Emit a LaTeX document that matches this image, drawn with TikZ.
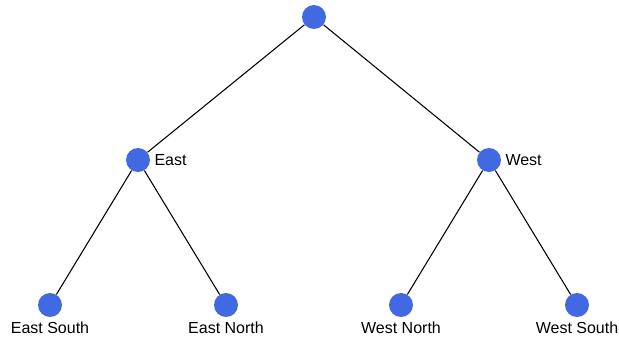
\documentclass[tikz,border=0pt]{standalone}
\usepackage{fontspec}
\setmainfont{Liberation Sans}
\definecolor{royalblue}{HTML}{4169E1}

\begin{document}
\begin{tikzpicture}[x=0.75pt,y=-0.75pt,
    font=\fontsize{12}{14}\selectfont,
    every label/.style={inner sep=1pt},
    leaf/.style={circle,
        minimum size=18pt,
        inner sep=0pt,
        fill=royalblue}]

% Fix the page to the size of the picture
\useasboundingbox (0,0) rectangle (619,339);

% Root at the top
\node[leaf] (root) at (314,17){};

% Second level, label on the right
\node[leaf,
    label={[label distance=2pt]0:East}] (east) at (138,160){};
\node[leaf,
    label={[label distance=2pt]0:West}] (west) at (489,160){};

% Leaves, label below
\node[leaf,
    label={[label distance=2.5pt]270:East South}] (eastSouth) at (50,305){};
\node[leaf,
    label={[label distance=2.5pt]270:East North}] (eastNorth) at (226,305){};
\node[leaf,
    label={[label distance=2.5pt]270:West North}] (westNorth) at (401,305){};
\node[leaf,
    label={[label distance=2.5pt]270:West South}] (westSouth) at (577,305){};

% The edges
\draw[line width=0.8pt] (root) -- (east);
\draw[line width=0.8pt] (root) -- (west);
\draw[line width=0.8pt] (east) -- (eastSouth);
\draw[line width=0.8pt] (east) -- (eastNorth);
\draw[line width=0.8pt] (west) -- (westNorth);
\draw[line width=0.8pt] (west) -- (westSouth);

\end{tikzpicture}
\end{document}
